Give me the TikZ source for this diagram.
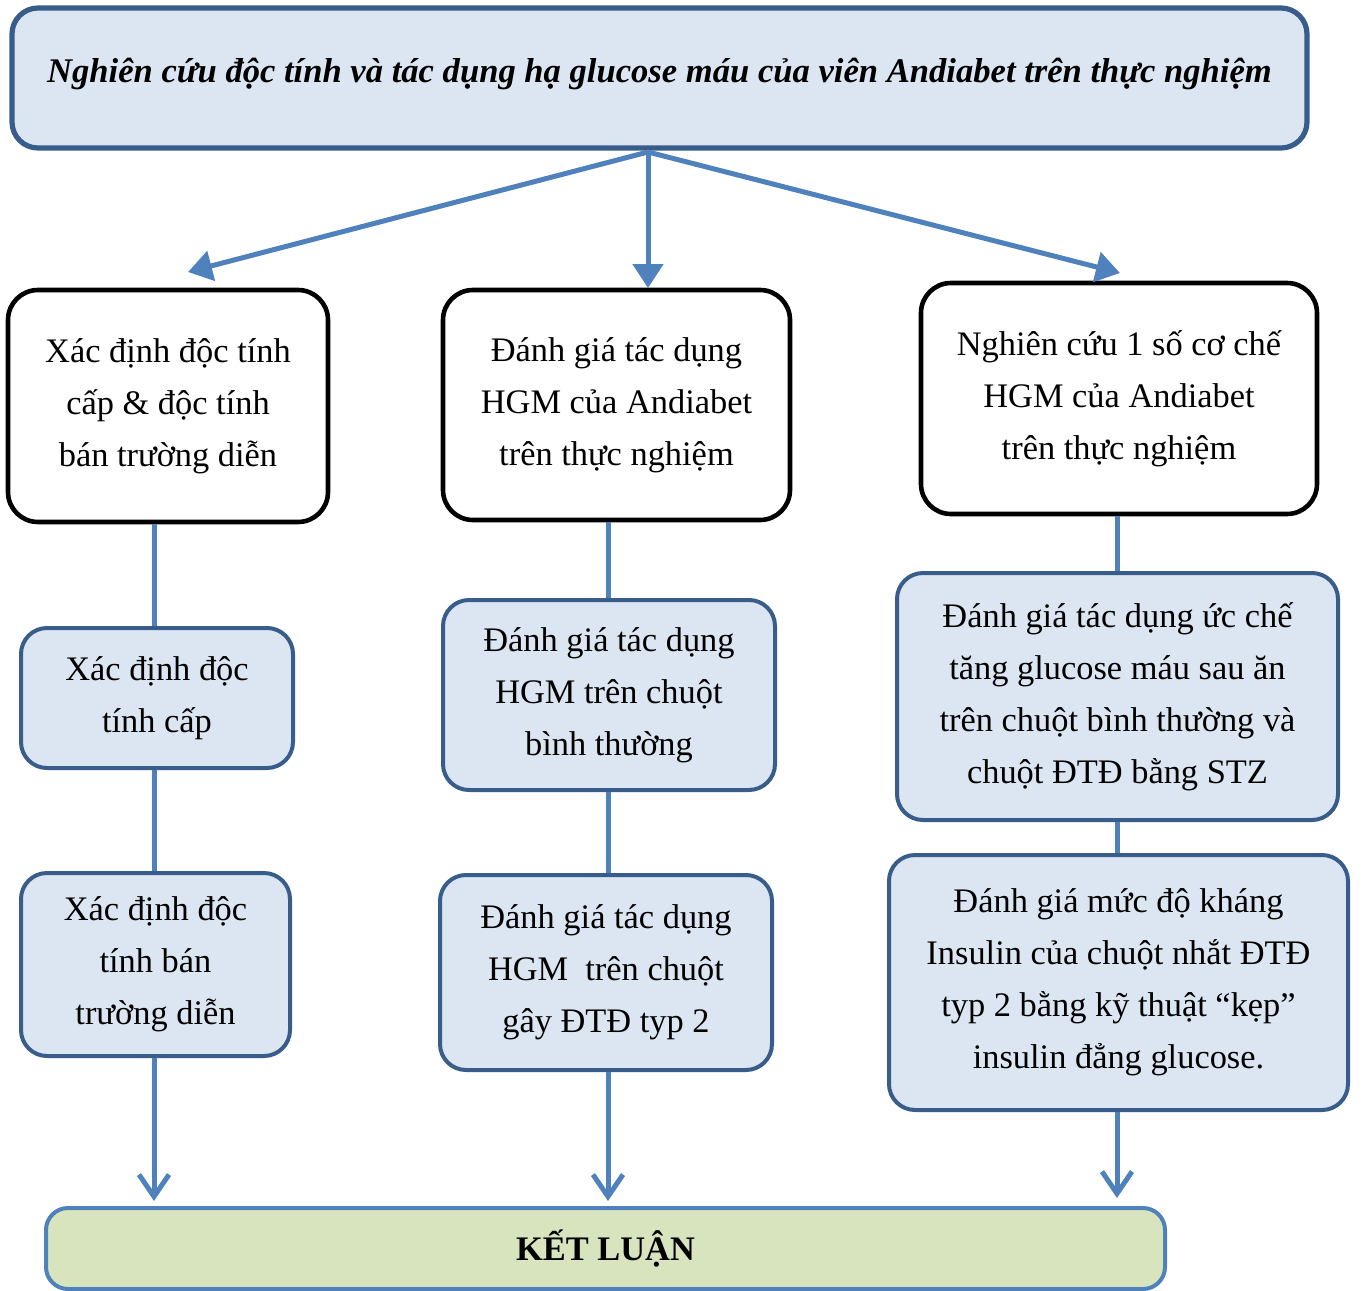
\documentclass[tikz,border=0pt]{standalone}
\usepackage{fontspec}
\setmainfont{Liberation Serif}
\usetikzlibrary{arrows.meta}
\definecolor{boxblue}{HTML}{DCE6F2}
\definecolor{darkline}{HTML}{385D8A}
\definecolor{arrowblue}{HTML}{4F81BD}
\definecolor{endgreen}{HTML}{D7E4BD}
\begin{document}
\begin{tikzpicture}[x=0.5pt,y=-0.5pt,
        every node/.style={font=\fontsize{17.2}{26}\selectfont, align=center, inner sep=0pt},
        topbox/.style={draw=darkline, fill=boxblue, line width=2.6pt, rounded corners=13pt},
        mainbox/.style={draw=black, fill=white, line width=2.3pt, rounded corners=15pt},
        subbox/.style={draw=darkline, fill=boxblue, line width=2pt, rounded corners=13pt},
        endbox/.style={draw=arrowblue, fill=endgreen, line width=2pt, rounded corners=11pt},
        link/.style={draw=arrowblue, line width=2.5pt},
        fork/.style={link, -{Triangle[length=12pt,width=15pt]}},
        into/.style={link, -{Straight Barb[length=11pt,width=15pt,line width=2.5pt]}}]
    \useasboundingbox (0,0) rectangle (1362,1291);

    % title
    \node[topbox, minimum width=647.5pt, minimum height=70pt] (title) at (659.5,78)
        {\raisebox{-2pt}[0pt][0pt]{\textbf{\textit{\fontsize{17.3}{20}\selectfont Nghiên cứu độc tính và tác dụng hạ glucose máu của viên Andiabet trên thực nghiệm}}}};

    % first level
    \node[mainbox, minimum width=160pt, minimum height=116pt] (tox) at (168,406)
        {Xác định độc tính\\cấp \& độc tính\\bán trường diễn};
    \node[mainbox, minimum width=173.5pt, minimum height=115pt] (eff) at (616.5,405)
        {Đánh giá tác dụng\\HGM của Andiabet\\trên thực nghiệm};
    \node[mainbox, minimum width=198pt, minimum height=115.5pt] (mech) at (1119,398.5)
        {Nghiên cứu 1 số cơ chế\\HGM của Andiabet\\trên thực nghiệm};

    % second level
    \node[subbox, minimum width=136pt, minimum height=70pt] (acute) at (157,698)
        {Xác định độc\\tính cấp};
    \node[subbox, minimum width=134.5pt, minimum height=91.5pt] (chronic) at (155.5,964.5)
        {Xác định độc\\tính bán\\trường diễn};
    \node[subbox, minimum width=166pt, minimum height=95pt] (normal) at (609,695)
        {Đánh giá tác dụng\\HGM trên chuột\\bình thường};
    \node[subbox, minimum width=166pt, minimum height=97.5pt] (type2) at (606,972.5)
        {Đánh giá tác dụng\\HGM\ \ trên chuột\\gây ĐTĐ typ 2};
    \node[subbox, minimum width=220.5pt, minimum height=123.5pt] (meal) at (1117.5,696.5)
        {Đánh giá tác dụng ức chế\\tăng glucose máu sau ăn\\trên chuột bình thường và\\chuột ĐTĐ bằng STZ};
    \node[subbox, minimum width=229.5pt, minimum height=127.5pt] (clamp) at (1118.5,982.5)
        {Đánh giá mức độ kháng\\Insulin của chuột nhắt ĐTĐ\\typ 2 bằng kỹ thuật “kẹp”\\insulin đẳng glucose.};

    % conclusion
    \node[endbox, minimum width=559.5pt, minimum height=40.5pt] (concl) at (605.5,1248.5)
        {\textbf{KẾT LUẬN}};

    % arrows from the title
    \coordinate (split) at (648,152);
    \coordinate (toxin) at (188,272);
    \coordinate (effin) at (648,288);
    \coordinate (mechin) at (1120,273);
    \draw[fork] (split) -- (toxin);
    \draw[fork] (split) -- (effin);
    \draw[fork] (split) -- (mechin);

    % columns
    \draw[link] (154,0 |- tox.south) -- (154,0 |- acute.north);
    \draw[link] (154,0 |- acute.south) -- (154,0 |- chronic.north);
    \draw[into] (154,0 |- chronic.south) -- (154,1201);
    \draw[link] (608,0 |- eff.south) -- (608,0 |- normal.north);
    \draw[link] (608,0 |- normal.south) -- (608,0 |- type2.north);
    \draw[into] (608,0 |- type2.south) -- (608,1201);
    \draw[link] (1117,0 |- mech.south) -- (1117,0 |- meal.north);
    \draw[link] (1117,0 |- meal.south) -- (1117,0 |- clamp.north);
    \draw[into] (1117,0 |- clamp.south) -- (1117,1198);
\end{tikzpicture}
\end{document}
